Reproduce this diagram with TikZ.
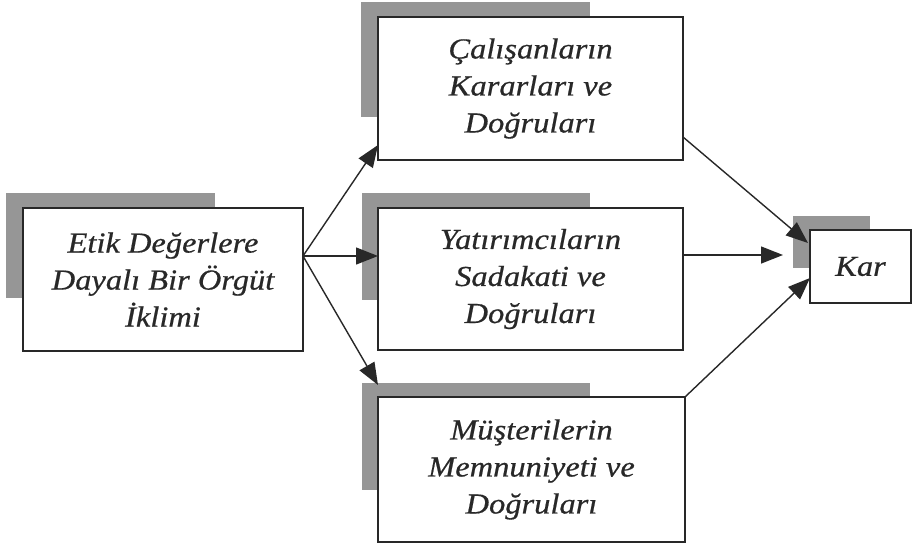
\documentclass[tikz,border=0pt]{standalone}
\usepackage{fontspec}
\newfontfamily\boxfont{Liberation Serif Italic}[FakeStretch=1.12,FakeBold=0.6]
\usetikzlibrary{arrows.meta}
\definecolor{ink}{RGB}{40,40,40}
\definecolor{shade}{RGB}{150,150,150}
\tikzset{
  boxnode/.style={draw=ink, line width=1.6pt, fill=white, align=center,
    text=ink, inner sep=0pt,
    font=\boxfont\fontsize{29}{37}\selectfont},
  shadowfill/.style={fill=shade, draw=none},
  link/.style={draw=ink, line width=1.4pt, -{Triangle[length=22pt,width=17pt]}}
}
\begin{document}
\begin{tikzpicture}[x=1pt,y=-1pt]
\useasboundingbox (0,0) rectangle (912,544);
% shadows
\fill[shadowfill] (6,193) rectangle (215,298);
\fill[shadowfill] (361,2) rectangle (590,117);
\fill[shadowfill] (362,193) rectangle (590,300);
\fill[shadowfill] (362,383) rectangle (590,490);
\fill[shadowfill] (793,216) rectangle (870,268);
% boxes
\node[boxnode, minimum width=280pt, minimum height=143pt] (L) at (163,279.5)
  {Etik Değerlere\\Dayalı Bir Örgüt\\İklimi};
\node[boxnode, minimum width=305pt, minimum height=143pt] (T) at (530.5,88.5)
  {Çalışanların\\Kararları ve\\Doğruları};
\node[boxnode, minimum width=305pt, minimum height=142pt] (M) at (530.5,279)
  {Yatırımcıların\\Sadakati ve\\Doğruları};
\node[boxnode, minimum width=307pt, minimum height=145pt] (B) at (531.5,469.5)
  {Müşterilerin\\Memnuniyeti ve\\Doğruları};
\node[boxnode, minimum width=101pt, minimum height=73pt] (K) at (860.5,266.5)
  {Kar};
% connector ends
\coordinate (o) at (303,256);
\coordinate (tT) at (378,145);
\coordinate (tM) at (378,256);
\coordinate (tB) at (378,385);
\coordinate (sT) at (683,137);
\coordinate (sM) at (683,255);
\coordinate (sB) at (685,397);
\coordinate (kT) at (808,243);
\coordinate (kM) at (783,255);
\coordinate (kB) at (810,278);
\draw[link] (o) -- (tT);
\draw[link] (o) -- (tM);
\draw[link] (o) -- (tB);
\draw[link] (sT) -- (kT);
\draw[link] (sM) -- (kM);
\draw[link] (sB) -- (kB);
\end{tikzpicture}
\end{document}
